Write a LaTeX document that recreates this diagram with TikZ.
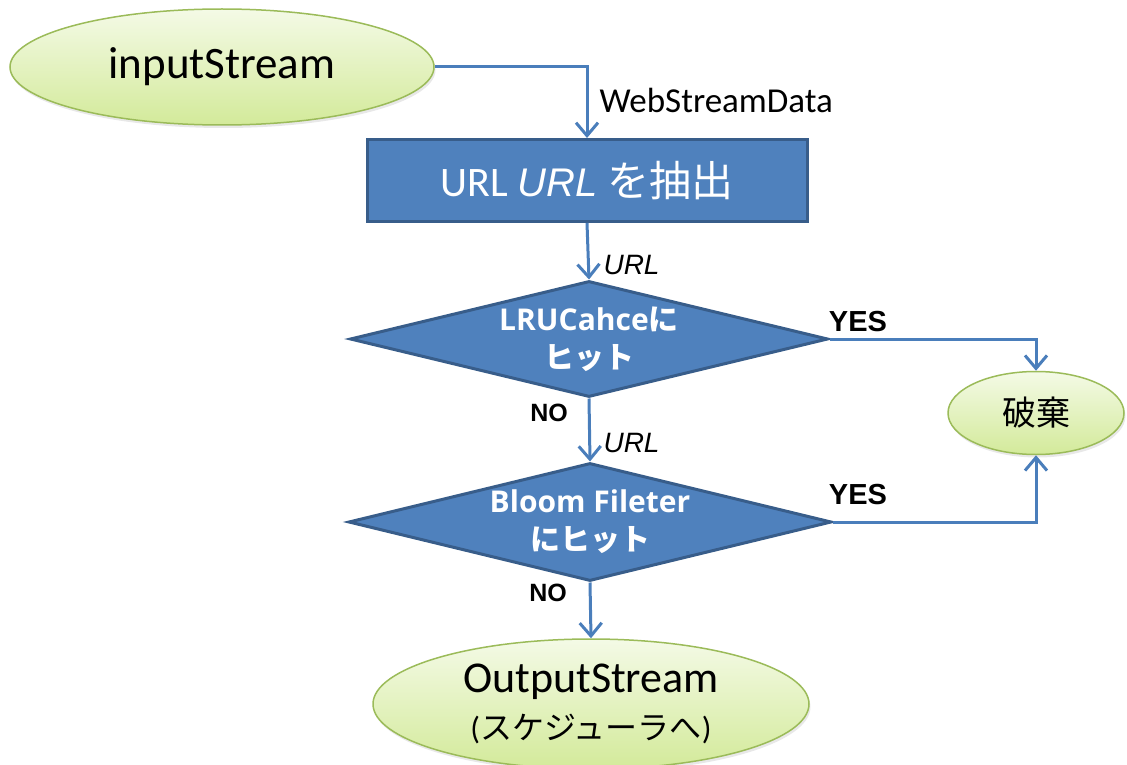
\documentclass[tikz,border=0pt]{standalone}
\usepackage{fontspec}
\setmainfont{Carlito}
\newfontfamily\jp{Noto Sans CJK JP}
\newfontfamily\arial{Liberation Sans}
\newfontfamily\opensans{Open Sans}
\usetikzlibrary{shapes.geometric,arrows.meta,shadows}

\definecolor{boxblue}{HTML}{4F81BD}
\definecolor{boxedge}{HTML}{385D8A}
\definecolor{linkblue}{HTML}{4A7EBB}
\definecolor{termedge}{HTML}{9BBB59}
\definecolor{termtop}{HTML}{F4FAE6}
\definecolor{termbot}{HTML}{D3EA9A}

\tikzset{
  terminal/.style={ellipse, draw=termedge, line width=1.5pt,
    top color=termtop, bottom color=termbot, inner sep=0pt,
    drop shadow={opacity=0.18, shadow xshift=1.5pt, shadow yshift=-3pt}},
  process/.style={rectangle, draw=boxedge, fill=boxblue, line width=3pt,
    text=white, inner sep=0pt},
  decision/.style={diamond, draw=boxedge, fill=boxblue, line width=3pt,
    shape aspect=4.1, text=white, inner sep=0pt, align=center,
    font=\opensans\bfseries\fontsize{30}{38}\selectfont},
  flow/.style={draw=linkblue, line width=3pt,
    -{Straight Barb[length=13pt, width=22pt]}},
  yeslabel/.style={font=\arial\bfseries\fontsize{29}{32}\selectfont},
  nolabel/.style={font=\arial\bfseries\fontsize{25}{28}\selectfont},
  urllabel/.style={anchor=west, font=\arial\itshape\fontsize{28}{30}\selectfont},
}

\begin{document}
\begin{tikzpicture}[x=1pt, y=-1pt]
  \useasboundingbox (0,0) rectangle (1127,765);

  % start and end terminals
  \node[terminal, minimum width=424pt, minimum height=116pt] (in) at (222,67)
    {\fontsize{45}{50}\selectfont inputStream};
  \node[terminal, minimum width=176pt, minimum height=83pt] (waste) at (1036,413)
    {\jp\fontsize{34}{40}\selectfont 破棄};
  \node[terminal, minimum width=436pt, minimum height=130pt, align=center] (out) at (591,704)
    {\fontsize{44}{50}\selectfont OutputStream\\[14pt]
     \fontsize{32}{38}\selectfont ({\jp スケジューラへ})};

  % extraction step
  \node[process, minimum width=440pt, minimum height=82pt] (url) at (587,180.5)
    {\fontsize{42}{48}\selectfont URL {\arial\itshape\fontsize{40}{48}\selectfont URL} {\jp を抽出}};

  % decisions
  \node[decision, minimum width=478pt, minimum height=116pt] (d1) at (589,339)
    {LRUCahce{\jp に}\\{\jp ヒット}};
  \node[decision, minimum width=483pt, minimum height=118pt] (d2) at (590,522)
    {Bloom Fileter\\{\jp にヒット}};

  % connectors
  \draw[flow] (in.east) -| (url.north);
  \draw[flow] (url.south) -- (d1.north);
  \draw[flow] (d1.south) -- (d2.north);
  \draw[flow] (d2.south) -- (out.north);
  \draw[flow] (d1.east) -| (waste.north);
  \draw[flow] (d2.east) -| (waste.south);

  % connector labels
  \node[anchor=west, font=\fontsize{35}{40}\selectfont] (wsd) at (596,100) {WebStreamData};
  \node[urllabel] (u1) at (600,265) {URL};
  \node[urllabel] (u2) at (600,443) {URL};
  \node[yeslabel] (yes1) at (858,322) {YES};
  \node[yeslabel] (yes2) at (858,495) {YES};
  \node[nolabel] (no1) at (549,413) {NO};
  \node[nolabel] (no2) at (548,593) {NO};
\end{tikzpicture}
\end{document}
